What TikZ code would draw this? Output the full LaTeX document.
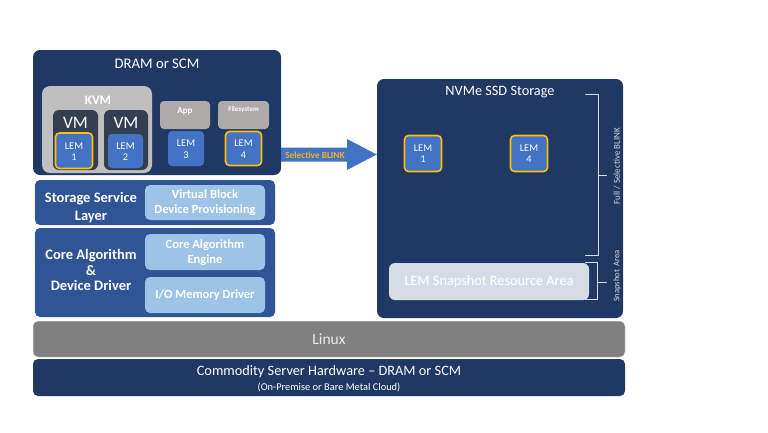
\documentclass[tikz,border=0pt]{standalone}
\usepackage{fontspec}
\setmainfont{Carlito}
\usetikzlibrary{fit}
\definecolor{navy}{HTML}{203864}
\definecolor{midblue}{HTML}{2F5597}
\definecolor{lightblue}{HTML}{9DC3E6}
\definecolor{lemblue}{HTML}{4472C4}
\definecolor{gold}{HTML}{FFC000}
\definecolor{blinkgold}{HTML}{F2B31E}
\definecolor{vmgray}{HTML}{333F50}
\definecolor{kvmgray}{HTML}{BFBFBF}
\definecolor{appgray}{HTML}{AEAAAA}
\definecolor{linuxgray}{HTML}{808080}
\definecolor{snapgray}{HTML}{D6DCE5}
\definecolor{brk}{HTML}{D9D9D9}
\begin{document}
\begin{tikzpicture}[x=1pt,y=-1pt,
  box/.style={inner sep=0pt, draw=none, rounded corners=5pt},
  lem/.style={box, fill=lemblue, rounded corners=4pt},
  lemgold/.style={lem, draw=gold, line width=1.6pt},
  lbl/.style={text=white, inner sep=0pt, align=center},
  lemtxt/.style={lbl, font=\fontsize{10.3}{11.5}\selectfont},
  inner/.style={lbl, font=\bfseries\fontsize{12.5}{15}\selectfont},
  brack/.style={draw=brk, line width=0.9pt}
]
\useasboundingbox (0,0) rectangle (768,432);

% DRAM or SCM
\node[box, fill=navy, rounded corners=7pt, fit={(33,50) (281,175)}] (dram) {};
\node[lbl, font=\fontsize{14.7}{16}\selectfont] (dramt) at (157,64) {DRAM or SCM};
\node[box, fill=kvmgray, rounded corners=8pt, fit={(42,86) (152,173)}] (kvm) {};
\node[lbl, font=\bfseries\fontsize{13}{14}\selectfont] (kvmt) at (98,100) {KVM};
\node[box, fill=vmgray, rounded corners=6pt, fit={(53,110) (98,170)}] (vm1) {};
\node[box, fill=vmgray, rounded corners=6pt, fit={(104,110) (148,170)}] (vm2) {};
\node[lbl, font=\fontsize{17.5}{18}\selectfont] (vm1t) at (75.5,123) {VM};
\node[lbl, font=\fontsize{17.5}{18}\selectfont] (vm2t) at (126,123) {VM};
\node[lemgold, fit={(55.5,133) (92.5,168.5)}] (lem1) {};
\node[lemtxt] (lem1t) at (74,151.5) {LEM\\1};
\node[lem, fit={(108,134) (143,168)}] (lem2) {};
\node[lemtxt] (lem2t) at (125.5,151.5) {LEM\\2};
\node[box, fill=appgray, rounded corners=4pt, fit={(160,101) (210,129)}] (app) {};
\node[lbl, font=\bfseries\fontsize{9}{10}\selectfont] (appt) at (185,111) {App};
\node[lem, fit={(168,131) (204,166)}] (lem3) {};
\node[lemtxt] (lem3t) at (186,149) {LEM\\3};
\node[box, fill=appgray, rounded corners=4pt, fit={(218,101) (269,129)}] (fs) {};
\node[lbl, font=\bfseries\fontsize{7}{8}\selectfont] (fst) at (243.5,109.5) {Filesystem};
\node[lemgold, fit={(225.5,131.5) (261.5,165.5)}] (lem4) {};
\node[lemtxt] (lem4t) at (243.5,149) {LEM\\4};

% NVMe SSD Storage
\node[box, fill=navy, rounded corners=7pt, fit={(377,79) (623,318)}] (nvme) {};
\node[lbl, font=\fontsize{14.3}{16}\selectfont] (nvmet) at (500,92) {NVMe SSD Storage};
\node[lemgold, fit={(404.5,135.5) (441.5,171.5)}] (nlem1) {};
\node[lemtxt] (nlem1t) at (423,153.5) {LEM\\1};
\node[lemgold, fit={(510.5,135.5) (547.5,171.5)}] (nlem4) {};
\node[lemtxt] (nlem4t) at (529,153.5) {LEM\\4};
\node[box, fill=snapgray, rounded corners=6pt, fit={(389,263) (589,300)}] (snap) {};
\node[lbl, font=\fontsize{14.3}{16}\selectfont] (snapt) at (489,281.5) {LEM Snapshot Resource Area};

% brackets
\coordinate (b1t) at (585,94);
\coordinate (b1b) at (585,255);
\coordinate (b1m) at (607,175);
\coordinate (b2t) at (585,262);
\coordinate (b2b) at (585,299);
\coordinate (b2m) at (607,282);
\draw[brack] (b1t) -- (598,94) -- (598,255) -- (b1b);
\draw[brack] (598,175) -- (b1m);
\draw[brack] (b2t) -- (597,262) -- (597,299) -- (b2b);
\draw[brack] (597,282) -- (b2m);
\node[lbl, text=brk, rotate=90, font=\fontsize{9}{10}\selectfont] (fullt) at (617,166) {Full / Selective BLINK};
\node[lbl, text=brk, rotate=90, font=\fontsize{8.5}{10}\selectfont] (snapat) at (617,276) {Snapshot\ \ Area};

% Selective BLINK arrow
\fill[lemblue] (dram.east |- 0,147.5) -- (347,147.5) -- (347,139) -- (nvme.west |- 0,154.5) -- (347,170) -- (347,161.5) -- (dram.east |- 0,161.5) -- cycle;
\node[lbl, text=blinkgold, font=\bfseries\fontsize{9.3}{10}\selectfont] (blink) at (315,155) {Selective BLINK};

% Storage Service Layer
\node[box, fill=midblue, fit={(35,180) (275,225)}] (ssl) {};
\node[lbl, font=\bfseries\fontsize{14.5}{18}\selectfont] (sslt) at (91,208) {Storage Service\\Layer};
\node[box, fill=lightblue, fit={(145,185) (265,220)}] (vbdp) {};
\node[inner] (vbdpt) at (205,203) {Virtual\ Block\\Device Provisioning};

% Core Algorithm & Device Driver
\node[box, fill=midblue, fit={(35,228) (275,317)}] (core) {};
\node[lbl, font=\bfseries\fontsize{14.5}{15.5}\selectfont] (coret) at (91,270) {Core Algorithm\\\&\\Device Driver};
\node[box, fill=lightblue, fit={(145,234) (265,270)}] (cae) {};
\node[inner] (caet) at (205,253) {Core Algorithm\\Engine};
\node[box, fill=lightblue, fit={(145,277) (265,313)}] (iom) {};
\node[inner] (iomt) at (205,295) {I/O Memory Driver};

% Linux
\node[box, fill=linuxgray, draw=white!85!black, line width=0.5pt, fit={(33,321) (625,357)}] (linux) {};
\node[lbl, text=white!92!black, font=\fontsize{15.5}{17}\selectfont] (linuxt) at (329,339) {Linux};

% Commodity hardware
\node[box, fill=navy, fit={(33,359) (625,396)}] (hw) {};
\node[lbl, font=\fontsize{14.3}{16}\selectfont] (hwt) at (329,372) {Commodity Server Hardware -- DRAM or SCM};
\node[lbl, font=\fontsize{10.4}{11}\selectfont] (hws) at (329,387.5) {(On-Premise or Bare Metal Cloud)};
\end{tikzpicture}
\end{document}
